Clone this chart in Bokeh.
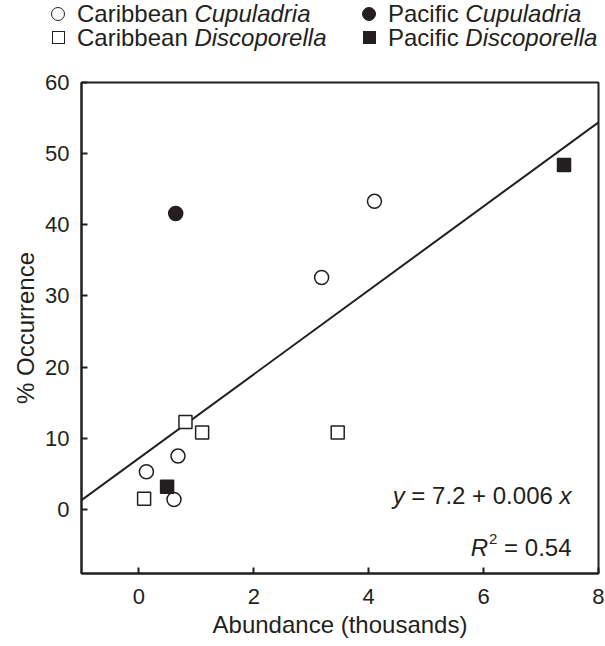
from bokeh.plotting import figure
from bokeh.layouts import column
from bokeh.models import Range1d, FixedTicker, Div
from bokeh.core.properties import value
from bokeh.embed import file_html
from bokeh.resources import INLINE

INK = "#231f20"
FONT = "Liberation Sans"

# ---------------- data ----------------
car_cup_x = [0.13, 0.68, 0.61, 3.18, 4.10]
car_cup_y = [5.3, 7.5, 1.4, 32.6, 43.3]
car_dis_x = [0.09, 0.81, 1.10, 3.46]
car_dis_y = [1.5, 12.3, 10.8, 10.8]
pac_cup_x = [0.64]
pac_cup_y = [41.6]
pac_dis_x = [0.49, 7.40]
pac_dis_y = [3.2, 48.4]

fit_intercept = 7.2
fit_slope = 5.9          # per thousand (drawn line)
eq_text = "= 7.2 + 0.006"
r2_text = "= 0.54"

x_ticks = [0, 2, 4, 6, 8]
y_ticks = [0, 10, 20, 30, 40, 50, 60]
x_lim = (-1, 8)
y_lim = (-9, 60)

legend_regions = ["Caribbean", "Pacific"]
legend_genera = ["Cupuladria", "Discoporella"]

# Arial/Liberation Sans advance widths (per 1000 em)
ADV = {" ": 278, "C": 722, "a": 556, "r": 333, "i": 222, "b": 556, "e": 556, "n": 556,
       "P": 667, "c": 500, "f": 278, "D": 722, "s": 500, "o": 556, "p": 556, "l": 222,
       "u": 556, "d": 556, ".": 278, "=": 584, "+": 584, "R": 722, "x": 500, "y": 500}
for dch in "0123456789":
    ADV[dch] = 556


def tw(s, size):
    return sum(ADV.get(ch, 556) for ch in s) * size / 1000.0


# ---------------- legend (HTML block above the chart) ----------------
LFS = 24
col_marker_x = [53.0, 364.0]
col_text_x = [72.0, 383.0]
row_cy = [8.5, 32.5]          # cap-centre of each row, in block pixels
parts = []
for ci, region in enumerate(legend_regions):
    filled = region == "Pacific"
    for ri, genus in enumerate(legend_genera):
        is_circle = genus == "Cupuladria"
        sz = 14 if is_circle else 13
        fill = INK if filled else "white"
        radius = "50%" if is_circle else "0"
        parts.append(
            f'<div style="position:absolute;box-sizing:border-box;left:{col_marker_x[ci] - sz / 2:.1f}px;'
            f'top:{row_cy[ri] - sz / 2:.1f}px;width:{sz}px;height:{sz}px;border:1.5px solid {INK};'
            f'border-radius:{radius};background:{fill};"></div>')
        parts.append(
            f'<div style="position:absolute;left:{col_text_x[ci]:.1f}px;top:{row_cy[ri] - 11.7:.1f}px;'
            f'white-space:nowrap;line-height:24px;">{region} <i>{genus}</i></div>')
legend_html = (
    f'<div style="position:relative;width:604px;height:56px;overflow:visible;'
    f'font-family:\'{FONT}\';font-size:{LFS}px;color:{INK};">' + "".join(parts) + '</div>')
lg = Div(text=legend_html, width=604, height=56, styles={"overflow": "visible"})

# ---------------- chart figure ----------------
p = figure(frame_width=517, frame_height=491, x_range=Range1d(*x_lim), y_range=Range1d(*y_lim),
           output_backend="svg", toolbar_location=None,
           min_border_left=81, min_border_right=6, min_border_top=16, min_border_bottom=40)
p.grid.visible = False
p.outline_line_color = INK
p.outline_line_width = 2
p.background_fill_color = "white"

for ax in (p.xaxis[0], p.yaxis[0]):
    ax.axis_line_color = INK
    ax.axis_line_width = 2
    ax.major_tick_line_color = INK
    ax.major_tick_line_width = 2
    ax.major_tick_in = 6
    ax.major_tick_out = 0
    ax.minor_tick_line_color = None
    ax.major_label_text_font = FONT
    ax.major_label_text_font_size = "22px"
    ax.major_label_text_color = INK
    ax.axis_label_text_font = FONT
    ax.axis_label_text_font_size = "24px"
    ax.axis_label_text_font_style = "normal"
    ax.axis_label_text_color = INK

p.xaxis.ticker = FixedTicker(ticks=x_ticks)
p.yaxis.ticker = FixedTicker(ticks=y_ticks)
p.xaxis.axis_label = "Abundance (thousands)"
p.yaxis.axis_label = "% Occurrence"
p.xaxis.major_label_standoff = 15
p.yaxis.major_label_standoff = 12
p.xaxis.axis_label_standoff = 4
p.yaxis.axis_label_standoff = 3

# regression line
line_x = [x_lim[0], x_lim[1]]
line_y = [fit_intercept + fit_slope * v for v in line_x]
p.line(line_x, line_y, line_color=INK, line_width=2)

p.scatter(car_cup_x, car_cup_y, marker="circle", size=14, fill_color="white",
          line_color=INK, line_width=1.5)
p.scatter(car_dis_x, car_dis_y, marker="square", size=13, fill_color="white",
          line_color=INK, line_width=1.5)
p.scatter(pac_cup_x, pac_cup_y, marker="circle", size=14, fill_color=INK,
          line_color=INK, line_width=1.5)
p.scatter(pac_dis_x, pac_dis_y, marker="square", size=13, fill_color=INK,
          line_color=INK, line_width=1.5)

# equation annotation (right-aligned at anchor)
AFS = 24
ann_x = 7.53
eq_y = 1.9
r2_y = -5.3
sp = tw(" ", AFS)
w_x = tw("x", AFS)
w_eq = tw(eq_text, AFS)
w_y = tw("y", AFS)
common = dict(text_font=value(FONT), text_color=INK, text_baseline="middle", text_align="left")
off = -w_x
p.text([ann_x], [eq_y], text=["x"], text_font_size=f"{AFS}px", text_font_style="italic",
       x_offset=off, **common)
off -= sp + w_eq
p.text([ann_x], [eq_y], text=[eq_text], text_font_size=f"{AFS}px", x_offset=off, **common)
off -= sp + w_y
p.text([ann_x], [eq_y], text=["y"], text_font_size=f"{AFS}px", text_font_style="italic",
       x_offset=off, **common)

SFS = 15
w_r2 = tw(r2_text, AFS)
w_sup = tw("2", SFS)
w_R = tw("R", AFS)
off = -w_r2
p.text([ann_x], [r2_y], text=[r2_text], text_font_size=f"{AFS}px", x_offset=off, **common)
off -= sp + w_sup
p.text([ann_x], [r2_y], text=["2"], text_font_size=f"{SFS}px", x_offset=off, y_offset=-8,
       **common)
off -= w_R + 1
p.text([ann_x], [r2_y], text=["R"], text_font_size=f"{AFS}px", text_font_style="italic",
       x_offset=off, **common)

layout = column(lg, p, spacing=0)
open("out.html", "w").write(file_html(layout, INLINE))
